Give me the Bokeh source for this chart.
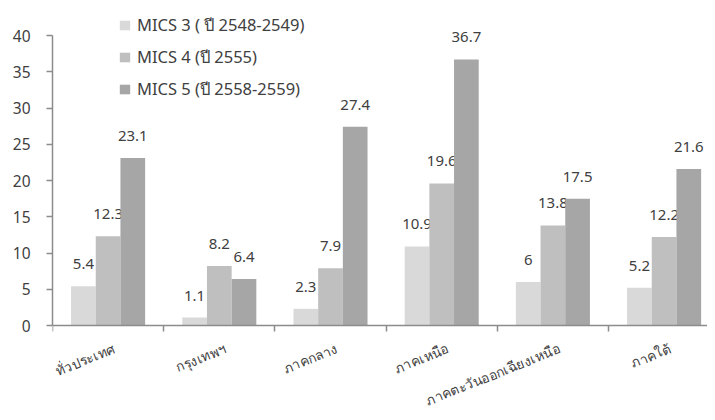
from bokeh.plotting import figure
from bokeh.models import ColumnDataSource, FixedTicker, Legend, LegendItem, Range1d
from bokeh.core.properties import value
from bokeh.embed import file_html
from bokeh.resources import INLINE

categories = ["ทั่วประเทศ", "กรุงเทพฯ", "ภาคกลาง", "ภาคเหนือ", "ภาคตะวันออกเฉียงเหนือ", "ภาคใต้"]
series_names = ["MICS 3 ( ปี 2548-2549)", "MICS 4 (ปี 2555)", "MICS 5 (ปี 2558-2559)"]
mics3 = [5.4, 1.1, 2.3, 10.9, 6, 5.2]
mics4 = [12.3, 8.2, 7.9, 19.6, 13.8, 12.2]
mics5 = [23.1, 6.4, 27.4, 36.7, 17.5, 21.6]
y_ticks = [0, 5, 10, 15, 20, 25, 30, 35, 40]

colors = ["#d9d9d9", "#bfbfbf", "#a6a6a6"]
FONT = "Noto Sans"
TEXT = "#404040"
AXIS = "#8c8c8c"

PX_PER_UNIT = 7.25
ZERO_Y = 325
H = 412
CAT_PX = 111.2
LEFT = 52
W = 707

p = figure(width=W, height=H, output_backend="svg", toolbar_location=None,
           x_range=Range1d(0, (W - LEFT) / CAT_PX),
           y_range=Range1d(-(H - ZERO_Y) / PX_PER_UNIT, ZERO_Y / PX_PER_UNIT),
           min_border_left=LEFT, min_border_right=0, min_border_top=0, min_border_bottom=0)
p.outline_line_color = None
p.xgrid.grid_line_color = None
p.ygrid.grid_line_color = None
p.background_fill_color = "white"
p.border_fill_color = "white"

bar_w = 0.222
offsets = [-bar_w, 0.0, bar_w]
items = []
for k, vals in enumerate([mics3, mics4, mics5]):
    xs = [i + 0.5 + offsets[k] for i in range(len(categories))]
    src = ColumnDataSource(dict(x=xs, top=vals, lab=[("%g" % v) for v in vals]))
    r = p.vbar(x="x", top="top", bottom=0, width=bar_w, source=src,
               fill_color=colors[k], line_color=None)
    p.text(x="x", y="top", text="lab", source=src, text_align="center", text_baseline="bottom",
           y_offset=-17, text_font=value(FONT), text_font_size="15px", text_color=TEXT)
    items.append(LegendItem(label=series_names[k], renderers=[r]))

legend = Legend(items=items, location=(66, 310), orientation="vertical",
                label_text_font=FONT, label_text_font_size="16.5px", label_text_color=TEXT,
                glyph_width=13, glyph_height=12, label_height=26, spacing=6,
                padding=0, margin=0, label_standoff=6, background_fill_alpha=0,
                border_line_color=None)
p.add_layout(legend, "center")

# y axis
p.yaxis.ticker = FixedTicker(ticks=y_ticks)
p.yaxis.bounds = (0, 40)
p.yaxis.axis_line_color = AXIS
p.yaxis.axis_line_width = 1.5
p.yaxis.major_tick_line_color = AXIS
p.yaxis.major_tick_line_width = 1.5
p.yaxis.major_tick_out = 6
p.yaxis.major_tick_in = 0
p.yaxis.minor_tick_line_color = None
p.yaxis.major_label_text_font = FONT
p.yaxis.major_label_text_font_size = "15.5px"
p.yaxis.major_label_text_color = TEXT
p.yaxis.major_label_standoff = 16

# x axis at y = 0, ticks at category boundaries
centers = [i + 0.5 for i in range(len(categories))]
p.xaxis.fixed_location = 0
p.xaxis.ticker = FixedTicker(ticks=centers, minor_ticks=list(range(len(categories) + 1)))
p.xaxis.major_label_overrides = {c: "" for c in centers}
p.xaxis.major_tick_line_color = None
p.xaxis.minor_tick_line_color = AXIS
p.xaxis.minor_tick_line_width = 1.5
p.xaxis.minor_tick_out = 6
p.xaxis.minor_tick_in = 0
p.xaxis.axis_line_color = AXIS
p.xaxis.axis_line_width = 1.5

# rotated category names below the axis
cat_src = ColumnDataSource(dict(x=centers, y=[0] * len(categories), text=categories))
p.text(x="x", y="y", text="text", source=cat_src, angle=0.38,
       text_align="right", text_baseline="top", x_offset=3, y_offset=14,
       text_font=value(FONT), text_font_size="13.5px", text_color=TEXT)

open("out.html", "w").write(file_html(p, INLINE))
